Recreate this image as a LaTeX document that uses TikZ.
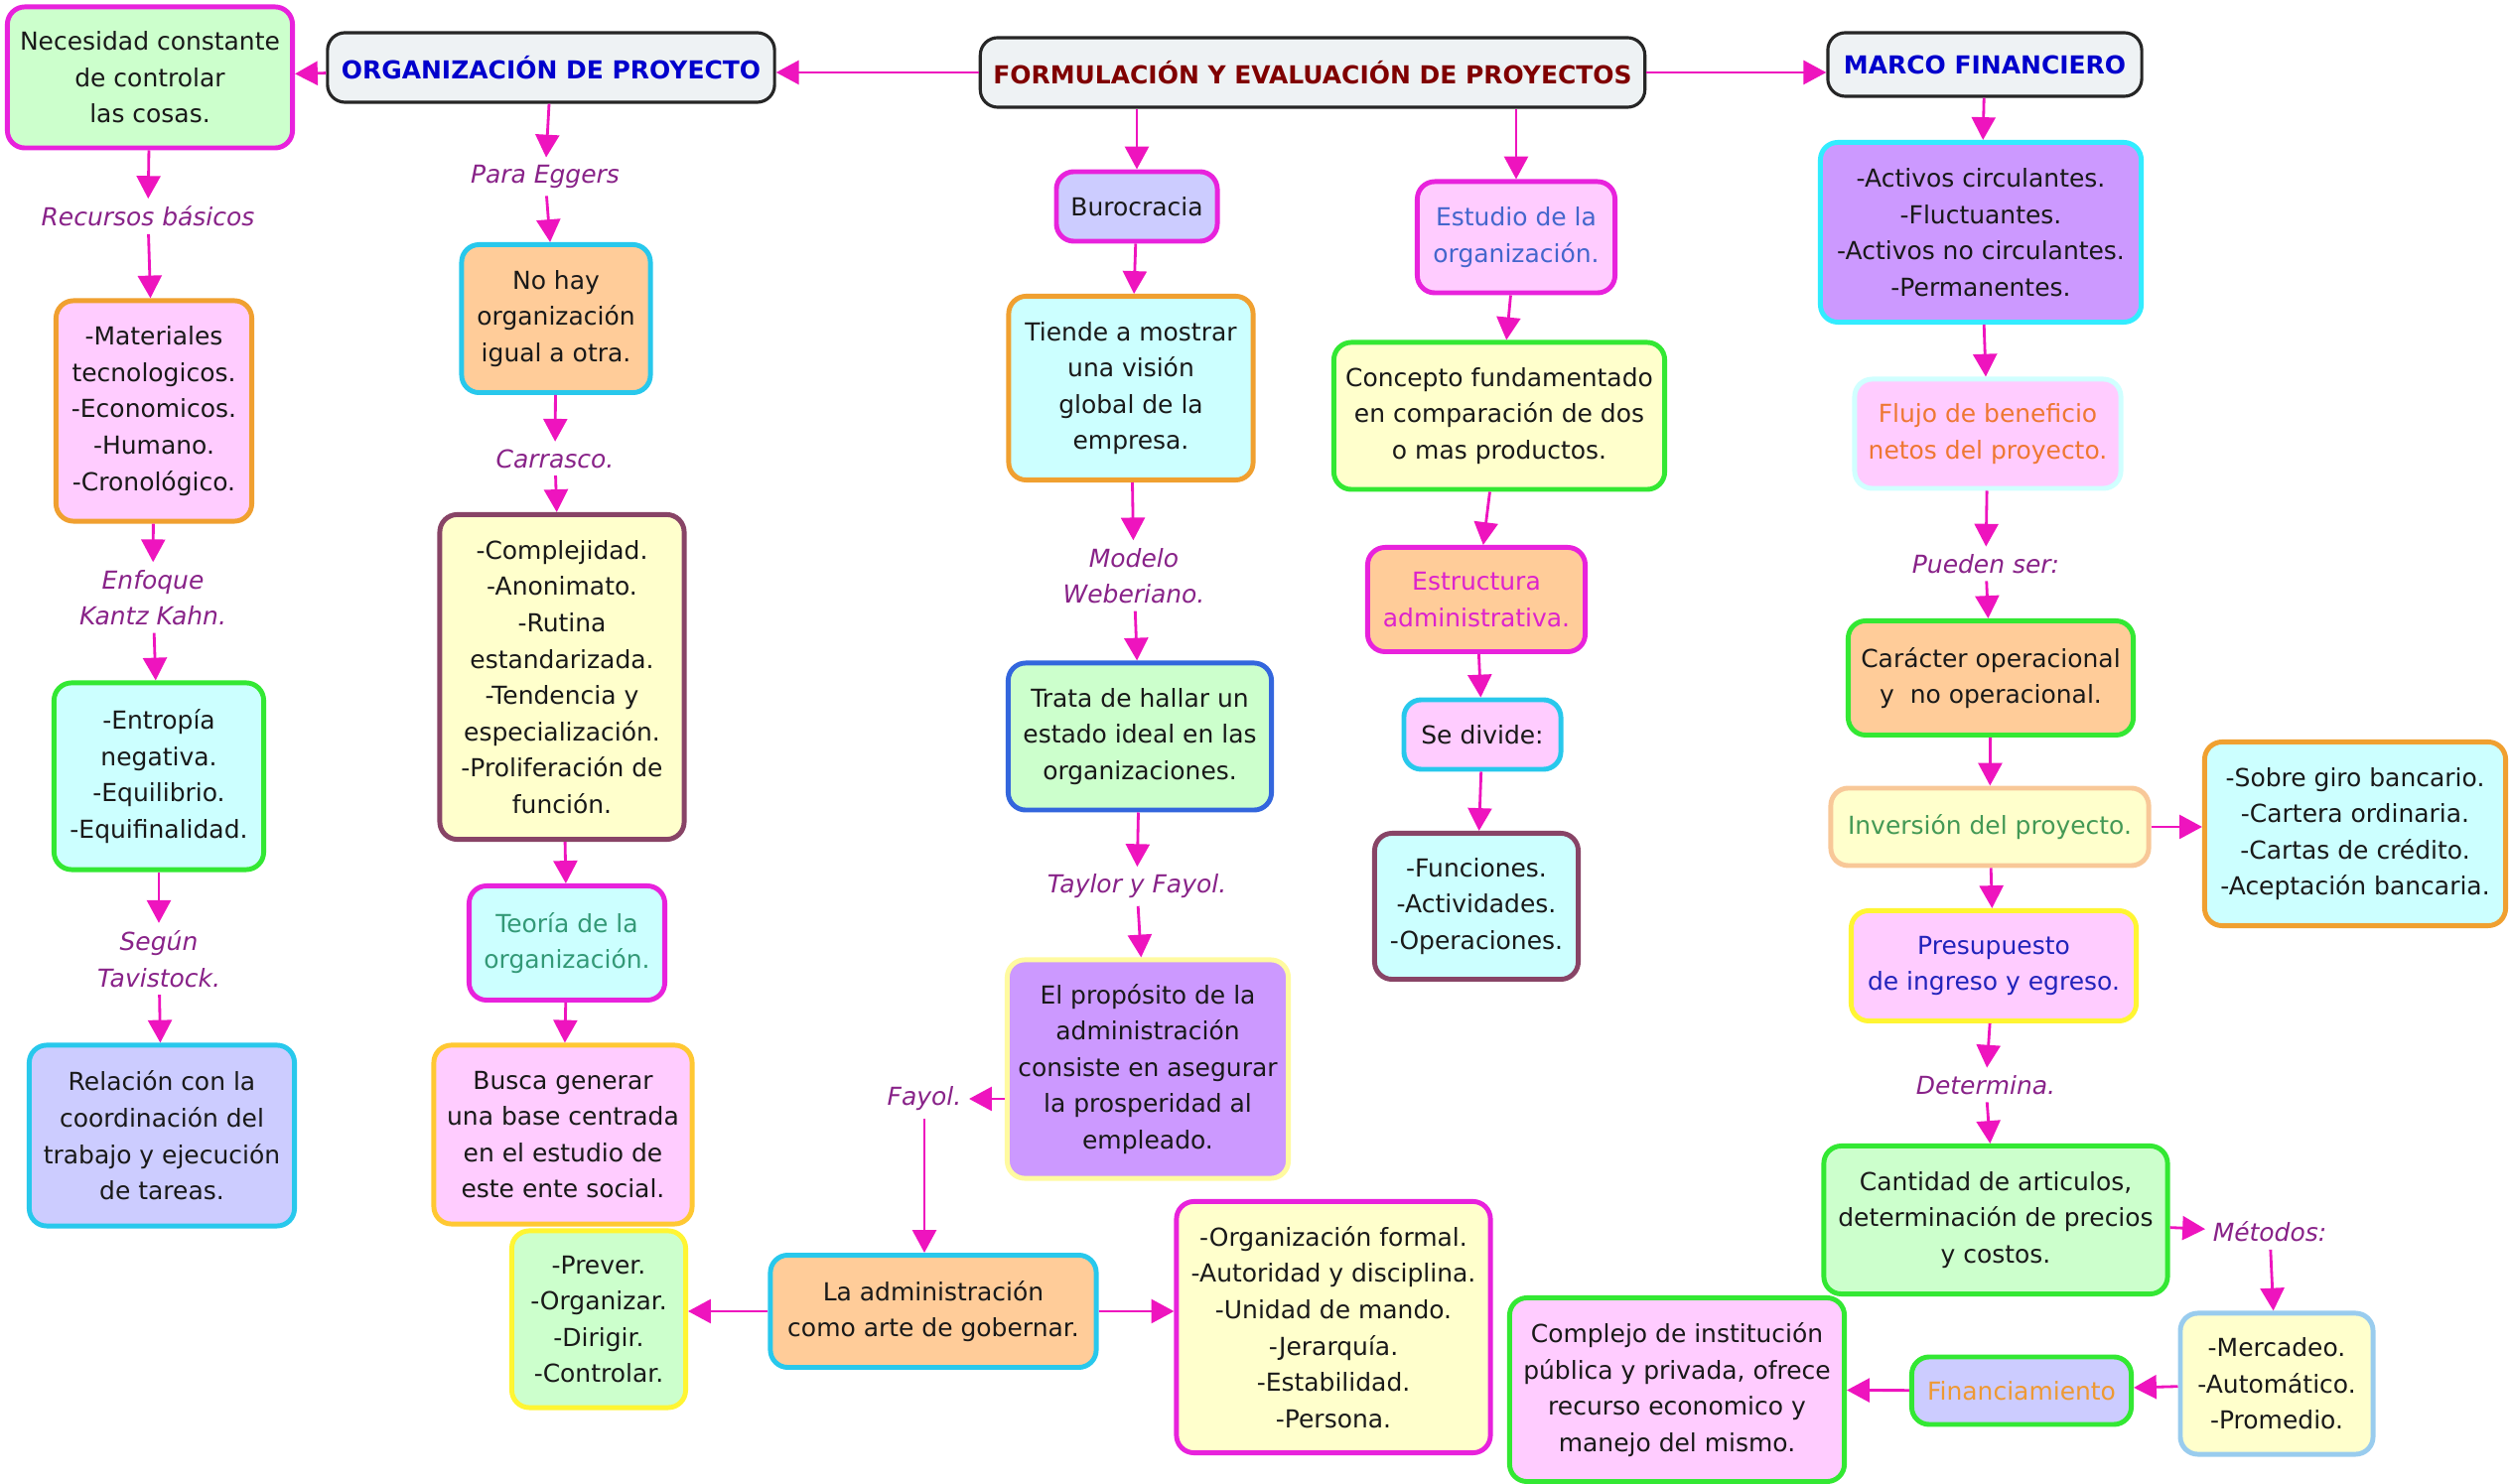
\documentclass[tikz,border=0pt]{standalone}
\usepackage{fontspec}
\setmainfont{DejaVu Sans}
\usetikzlibrary{arrows.meta}

% Colours of the map
\definecolor{arrc}{RGB}{238,20,190}
\definecolor{labc}{RGB}{136,34,136}
\definecolor{headfill}{RGB}{238,242,244}
\definecolor{titred}{RGB}{128,0,0}
\definecolor{titblue}{RGB}{0,0,204}
% fills
\definecolor{fgreen}{RGB}{204,255,204}
\definecolor{fpink}{RGB}{255,204,255}
\definecolor{fcyan}{RGB}{204,255,255}
\definecolor{fyellow}{RGB}{255,255,204}
\definecolor{fpeach}{RGB}{255,204,153}
\definecolor{flav}{RGB}{204,204,255}
\definecolor{fpurple}{RGB}{204,153,255}
% borders
\definecolor{bmag}{RGB}{232,34,220}
\definecolor{borange}{RGB}{240,160,48}
\definecolor{bgreen}{RGB}{51,232,51}
\definecolor{bcyan}{RGB}{40,200,236}
\definecolor{bcyanl}{RGB}{51,236,255}
\definecolor{bmaroon}{RGB}{136,68,102}
\definecolor{bgold}{RGB}{255,200,51}
\definecolor{byellow}{RGB}{255,245,51}
\definecolor{bblue}{RGB}{51,102,221}
\definecolor{bpale}{RGB}{255,250,160}
\definecolor{bpalec}{RGB}{208,255,255}
\definecolor{bpeach}{RGB}{248,200,152}
\definecolor{blblue}{RGB}{153,204,238}
% texts
\definecolor{tteal}{RGB}{51,153,119}
\definecolor{tblue}{RGB}{68,102,204}
\definecolor{tmag}{RGB}{221,34,204}
\definecolor{torange}{RGB}{238,119,51}
\definecolor{tgreen}{RGB}{68,153,85}
\definecolor{tnavy}{RGB}{34,34,187}
\definecolor{torangeb}{RGB}{238,153,51}

\tikzset{
	txt/.style={font=\fontsize{7.1}{10.4}\selectfont, text=black!90},
	box/.style 2 args={draw=#1, fill=#2, rounded corners=5pt, line width=1.4pt,
			align=center, inner sep=1pt, txt},
	sz/.style 2 args={minimum width=#1cm, minimum height=#2cm},
	head/.style={draw=black!85, fill=headfill, rounded corners=5pt, line width=0.9pt,
			font=\fontsize{7.1}{10.4}\selectfont\bfseries},
	lab/.style={font=\fontsize{7.1}{10.4}\selectfont\itshape, text=labc,
			align=center, inner sep=2pt},
	arr/.style={draw=arrc, line width=0.8pt, -{Triangle[length=6.5pt,width=6.8pt]}},
}

\begin{document}
\begin{tikzpicture}[x=0.01cm, y=-0.01cm]
	\useasboundingbox (0,0) rectangle (2529,1495);

	% Headings
	\node[head, sz={6.69}{0.70}, text=titred] (form) at (1322,73)
	{FORMULACIÓN Y EVALUACIÓN DE PROYECTOS};
	\node[head, sz={4.50}{0.70}, text=titblue] (org) at (555,68)
	{ORGANIZACIÓN DE PROYECTO};
	\node[head, sz={3.16}{0.64}, text=titblue] (marco) at (1999,65)
	{MARCO FINANCIERO};

	% Left column
	\node[box={bmag}{fgreen}, sz={2.87}{1.42}] (nec) at (151,78)
	{Necesidad constante\\de controlar\\las cosas.};
	\node[lab] (recur) at (149,218) {Recursos básicos};
	\node[box={borange}{fpink}, sz={1.97}{2.22}] (mater) at (155,414)
	{-Materiales\\tecnologicos.\\-Economicos.\\-Humano.\\-Cronológico.};
	\node[lab] (kahn) at (154,602) {Enfoque\\Kantz Kahn.};
	\node[box={bgreen}{fcyan}, sz={2.11}{1.88}] (entrop) at (160,782)
	{-Entropía\\negativa.\\-Equilibrio.\\-Equifinalidad.};
	\node[lab] (tavis) at (160,966) {Según\\Tavistock.};
	\node[box={bcyan}{flav}, sz={2.67}{1.82}] (relac) at (163,1144)
	{Relación con la\\coordinación del\\trabajo y ejecución\\de tareas.};

	% Second column
	\node[lab] (eggers) at (549,178) {Para Eggers};
	\node[box={bcyan}{fpeach}, sz={1.90}{1.49}] (nohay) at (560,321)
	{No hay\\organización\\igual a otra.};
	\node[lab] (carr) at (559,462) {Carrasco.};
	\node[box={bmaroon}{fyellow}, sz={2.46}{3.27}] (complej) at (566,682)
	{-Complejidad.\\-Anonimato.\\-Rutina\\estandarizada.\\-Tendencia y\\especialización.\\-Proliferación de\\función.};
	\node[box={bmag}{fcyan}, sz={1.97}{1.15}, text=tteal] (teoria) at (571,950)
	{Teoría de la\\organización.};
	\node[box={bgold}{fpink}, sz={2.60}{1.80}] (busca) at (567,1143)
	{Busca generar\\una base centrada\\en el estudio de\\este ente social.};
	\node[box={byellow}{fgreen}, sz={1.75}{1.78}] (prever) at (603,1329)
	{-Prever.\\-Organizar.\\-Dirigir.\\-Controlar.};
	\node[box={bcyan}{fpeach}, sz={3.28}{1.13}] (arte) at (940,1321)
	{La administración\\como arte de gobernar.};
	\node[box={bmag}{fyellow}, sz={3.16}{2.53}] (formal) at (1343,1337)
	{-Organización formal.\\-Autoridad y disciplina.\\-Unidad de mando.\\-Jerarquía.\\-Estabilidad.\\-Persona.};

	% Third column
	\node[box={bmag}{flav}, sz={1.62}{0.70}] (buro) at (1145,208) {Burocracia};
	\node[box={borange}{fcyan}, sz={2.46}{1.85}] (tiende) at (1139,391)
	{Tiende a mostrar\\una visión\\global de la\\empresa.};
	\node[lab] (weber) at (1142,580) {Modelo\\Weberiano.};
	\node[box={bblue}{fgreen}, sz={2.65}{1.48}] (trata) at (1148,742)
	{Trata de hallar un\\estado ideal en las\\organizaciones.};
	\node[lab] (taylor) at (1145,893) {Taylor y Fayol.};
	\node[box={bpale}{fpurple}, sz={2.83}{2.20}] (prop) at (1156,1077)
	{El propósito de la\\administración\\consiste en asegurar\\la prosperidad al\\empleado.};
	\node[lab] (fayol) at (931,1107) {Fayol.};

	% Fourth column
	\node[box={bmag}{fpink}, sz={1.99}{1.12}, text=tblue] (estudio) at (1527,239)
	{Estudio de la\\organización.};
	\node[box={bgreen}{fyellow}, sz={3.33}{1.48}] (concep) at (1510,419)
	{Concepto fundamentado\\en comparación de dos\\o mas productos.};
	\node[box={bmag}{fpeach}, sz={2.19}{1.05}, text=tmag] (estruc) at (1487,604)
	{Estructura\\administrativa.};
	\node[box={bcyan}{fpink}, sz={1.58}{0.70}] (divide) at (1493,740) {Se divide:};
	\node[box={bmaroon}{fcyan}, sz={2.05}{1.47}] (funcs) at (1487,913)
	{-Funciones.\\-Actividades.\\-Operaciones.};

	% Right column
	\node[box={bcyanl}{fpurple}, sz={3.23}{1.81}] (activos) at (1995,234)
	{-Activos circulantes.\\-Fluctuantes.\\-Activos no circulantes.\\-Permanentes.};
	\node[box={bpalec}{fpink}, sz={2.68}{1.10}, text=torange] (flujo) at (2002,437)
	{Flujo de beneficio\\netos del proyecto.};
	\node[lab] (pueden) at (2000,568) {Pueden ser:};
	\node[box={bgreen}{fpeach}, sz={2.87}{1.15}] (caract) at (2005,683)
	{Carácter operacional\\y\ \ no operacional.};
	\node[box={bpeach}{fyellow}, sz={3.20}{0.78}, text=tgreen] (invers) at (2004,833)
	{Inversión del proyecto.};
	\node[box={borange}{fcyan}, sz={3.03}{1.85}] (sobre) at (2372,840)
	{-Sobre giro bancario.\\-Cartera ordinaria.\\-Cartas de crédito.\\-Aceptación bancaria.};
	\node[box={byellow}{fpink}, sz={2.87}{1.11}, text=tnavy] (presup) at (2008,973)
	{Presupuesto\\de ingreso y egreso.};
	\node[lab] (determ) at (2000,1093) {Determina.};
	\node[box={bgreen}{fgreen}, sz={3.46}{1.49}] (cant) at (2010,1229)
	{Cantidad de articulos,\\determinación de precios\\y costos.};
	\node[lab] (metod) at (2286,1241) {Métodos:};
	\node[box={blblue}{fyellow}, sz={1.94}{1.42}] (merc) at (2293,1394)
	{-Mercadeo.\\-Automático.\\-Promedio.};
	\node[box={bgreen}{flav}, sz={2.21}{0.68}, text=torangeb] (finan) at (2036,1401)
	{Financiamiento};
	\node[box={bgreen}{fpink}, sz={3.37}{1.85}] (inst) at (1689,1400)
	{Complejo de institución\\pública y privada, ofrece\\recurso economico y\\manejo del mismo.};

	% Connectors
	\draw[arr] (form.west) -- (form.west -| org.east);
	\draw[arr] (form.east) -- (form.east -| marco.west);
	\draw[arr] (org) -- (nec);
	\draw[arr] (nec) -- (recur);
	\draw[arr] (recur) -- (mater);
	\draw[arr] (mater) -- (kahn);
	\draw[arr] (kahn) -- (entrop);
	\draw[arr] (entrop) -- (tavis);
	\draw[arr] (tavis) -- (relac);

	\draw[arr] (org) -- (eggers);
	\draw[arr] (eggers) -- (nohay);
	\draw[arr] (nohay) -- (carr);
	\draw[arr] (carr) -- (complej);
	\draw[arr] (complej) -- (teoria);
	\draw[arr] (teoria) -- (busca);

	\draw[arr] (form.south -| buro) -- (buro);
	\draw[arr] (buro) -- (tiende);
	\draw[arr] (tiende) -- (weber);
	\draw[arr] (weber) -- (trata);
	\draw[arr] (trata) -- (taylor);
	\draw[arr] (taylor) -- (prop);
	\draw[arr] (prop.west |- fayol) -- (fayol);
	\draw[arr] (fayol) -- (fayol |- arte.north);
	\draw[arr] (arte.west) -- (arte.west -| prever.east);
	\draw[arr] (arte.east) -- (arte.east -| formal.west);

	\draw[arr] (form.south -| estudio) -- (estudio);
	\draw[arr] (estudio) -- (concep);
	\draw[arr] (concep) -- (estruc);
	\draw[arr] (estruc) -- (divide);
	\draw[arr] (divide) -- (funcs);

	\draw[arr] (marco) -- (activos);
	\draw[arr] (activos) -- (flujo);
	\draw[arr] (flujo) -- (pueden);
	\draw[arr] (pueden) -- (caract);
	\draw[arr] (caract) -- (invers);
	\draw[arr] (invers.east) -- (invers.east -| sobre.west);
	\draw[arr] (invers) -- (presup);
	\draw[arr] (presup) -- (determ);
	\draw[arr] (determ) -- (cant);
	\draw[arr] (cant) -- (metod);
	\draw[arr] (metod) -- (merc);
	\draw[arr] (merc) -- (finan);
	\draw[arr] (finan) -- (inst);
\end{tikzpicture}
\end{document}
